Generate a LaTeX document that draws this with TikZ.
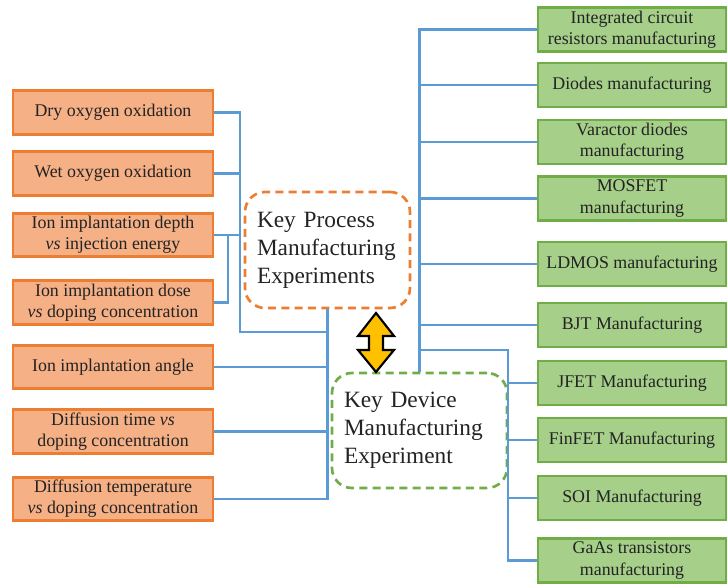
\documentclass[tikz,border=0pt]{standalone}
\usepackage{fontspec}
\setmainfont{Liberation Serif}
\definecolor{lblue}{RGB}{91,155,213}
\definecolor{orB}{RGB}{237,125,49}
\definecolor{orF}{RGB}{245,176,134}
\definecolor{grB}{RGB}{112,173,71}
\definecolor{grF}{RGB}{166,207,138}
\definecolor{arF}{RGB}{255,192,0}
\definecolor{txt}{RGB}{35,35,35}
\begin{document}
\begin{tikzpicture}[x=0.75pt,y=-0.75pt,
  conn/.style={draw=lblue,line width=2.1pt},
  pbox/.style={draw=orB,fill=orF,line width=2.2pt,minimum width=150pt,minimum height=32.5pt,
    inner sep=1pt,align=center,text=txt,font=\fontsize{13.4}{15.8}\selectfont},
  gbox/.style={draw=grB,fill=grF,line width=2.2pt,minimum width=141pt,minimum height=33pt,
    inner sep=1pt,align=center,text=txt,font=\fontsize{13.4}{15.8}\selectfont},
  bigbox/.style={line width=2pt,dash pattern=on 6pt off 4pt,rounded corners=15pt,
    align=left,text=txt,inner xsep=9pt,font=\fontsize{17.5}{21}\selectfont}]
\useasboundingbox (0,0) rectangle (728,584);
% left boxes
\node[pbox] (dry)   at (113,112.5) {Dry oxygen oxidation};
\node[pbox] (wet)   at (113,173.5) {Wet oxygen oxidation};
\node[pbox] (depth) at (113,235)   {Ion implantation depth\\\textit{vs} injection energy};
\node[pbox] (dose)  at (113,302.5) {Ion implantation dose\\\textit{vs} doping concentration};
\node[pbox] (angle) at (113,367)   {Ion implantation angle};
\node[pbox] (dtime) at (113,431.5) {Diffusion time \textit{vs}\\doping concentration};
\node[pbox] (dtemp) at (113,499)   {Diffusion temperature\\\textit{vs} doping concentration};
% right boxes
\node[gbox] (icr)    at (632,29.5)  {Integrated circuit\\resistors manufacturing};
\node[gbox] (diodes) at (632,85)    {Diodes manufacturing};
\node[gbox] (varac)  at (632,142)   {Varactor diodes\\manufacturing};
\node[gbox] (mosfet) at (632,198.5) {MOSFET\\manufacturing};
\node[gbox] (ldmos)  at (632,264)   {LDMOS manufacturing};
\node[gbox] (bjt)    at (632,325)   {BJT Manufacturing};
\node[gbox] (jfet)   at (632,383)   {JFET Manufacturing};
\node[gbox] (finfet) at (632,440)   {FinFET Manufacturing};
\node[gbox] (soi)    at (632,498)   {SOI Manufacturing};
\node[gbox] (gaas)   at (632,560.5) {GaAs transistors\\manufacturing};
% central boxes
\node[bigbox,draw=orB,minimum width=123.75pt,minimum height=87pt,text width=105.75pt] (process) at (327.5,250)
  {Key Process\\Manufacturing\\Experiments};
\node[bigbox,draw=grB,minimum width=131.25pt,minimum height=86.25pt,text width=113.25pt] (device) at (419.5,430.5)
  {Key Device\\Manufacturing\\Experiment};
% left connectors
\coordinate (pa) at (240,332);
\coordinate (db) at (228,235);
\draw[conn] (dry.east) -| (pa) -- (pa -| process.south);
\draw[conn] (wet.east) -- (wet.east -| pa);
\draw[conn] (depth.east) -- (depth.east -| pa);
\draw[conn] (dose.east) -| (db);
\draw[conn] (process.south) |- (dtemp.east);
\draw[conn] (angle.east) -- (angle.east -| process.south);
\draw[conn] (dtime.east) -- (dtime.east -| process.south);
% right connectors
\coordinate (rb) at (508,350);
\draw[conn] (device.north) |- (icr.west);
\draw[conn] (diodes.west) -- (diodes.west -| device.north);
\draw[conn] (varac.west) -- (varac.west -| device.north);
\draw[conn] (mosfet.west) -- (mosfet.west -| device.north);
\draw[conn] (ldmos.west) -- (ldmos.west -| device.north);
\draw[conn] (bjt.west) -- (bjt.west -| device.north);
\draw[conn] (rb -| device.north) -- (rb) |- (gaas.west);
\draw[conn] (jfet.west) -- (jfet.west -| rb);
\draw[conn] (finfet.west) -- (finfet.west -| rb);
\draw[conn] (soi.west) -- (soi.west -| rb);
% double arrow
\draw[fill=arF,draw=black,line width=1.6pt,line join=miter]
  (376,313) -- (394,336) -- (383,336) -- (383,350) -- (394,350) -- (376,372)
  -- (358,350) -- (369,350) -- (369,336) -- (358,336) -- cycle;
\end{tikzpicture}
\end{document}
